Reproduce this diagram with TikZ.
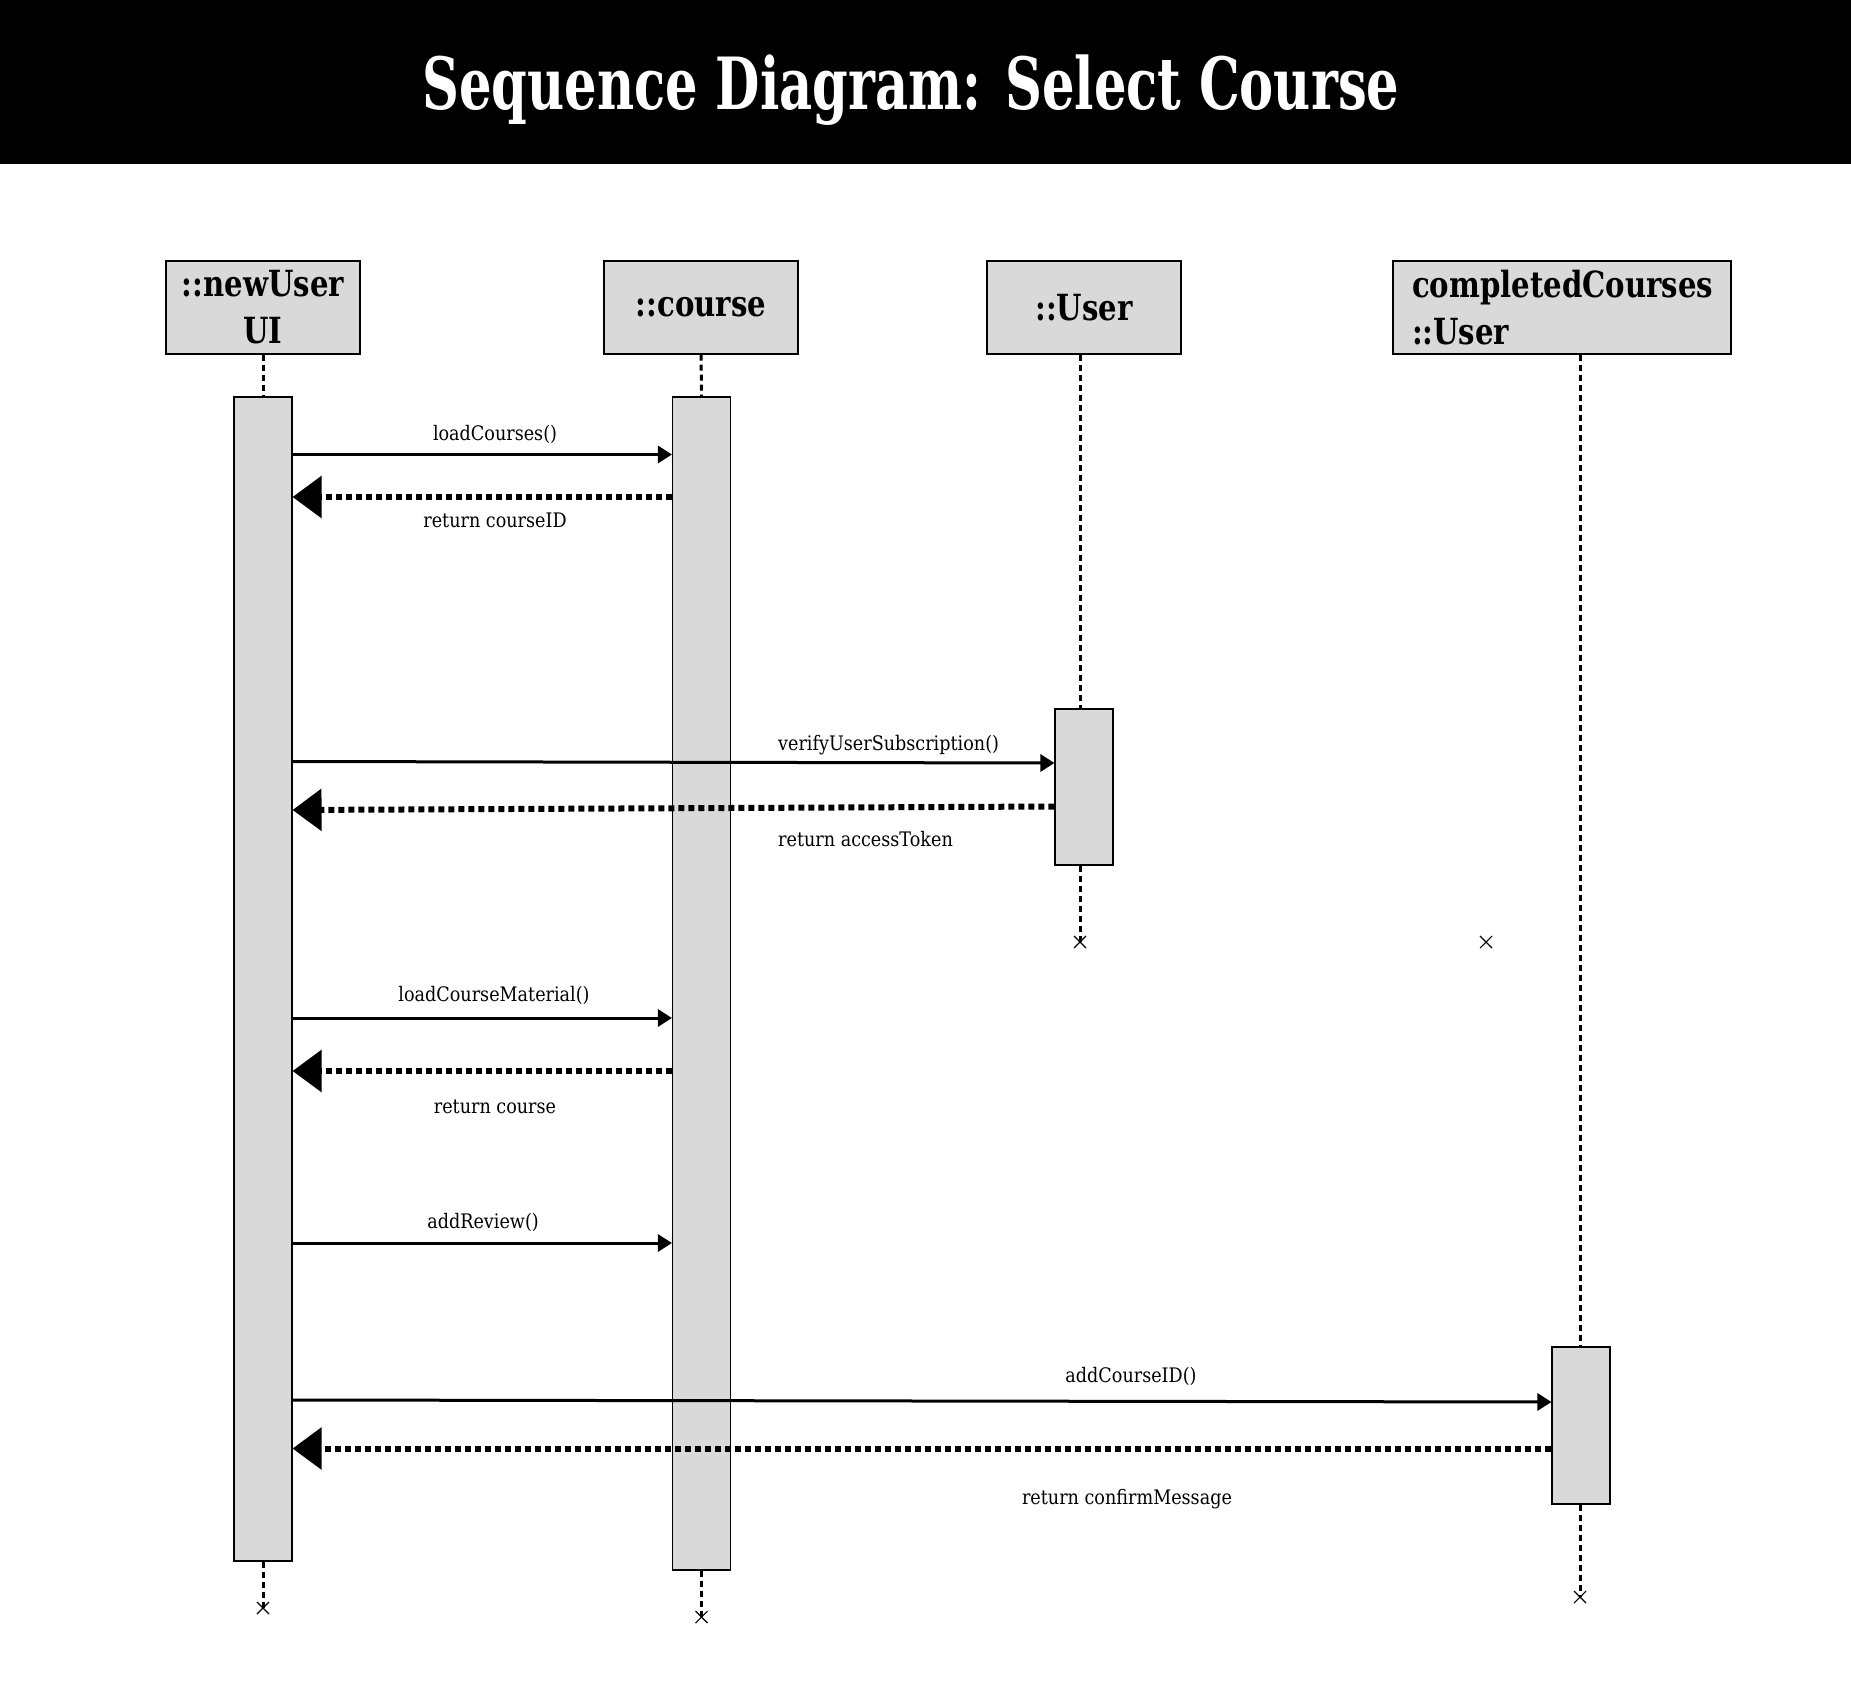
\documentclass[tikz,border=0pt]{standalone}
\usepackage{fontspec}
\setmainfont{DejaVu Serif}[FakeStretch=0.88]
\newfontfamily\titlefont{DejaVu Serif}[FakeStretch=0.71]
\newfontfamily\headfont{DejaVu Serif}[FakeStretch=0.81]
\usetikzlibrary{arrows.meta}
\definecolor{boxgray}{HTML}{D9D9D9}
\begin{document}
\begin{tikzpicture}[x=1pt,y=-1pt,
  hdr/.style={draw=black,line width=1.3pt,fill=boxgray,minimum width=194pt,minimum height=93pt,inner sep=0pt,font=\headfont\fontsize{36}{47}\selectfont\bfseries,align=center},
  bar/.style={draw=black,line width=1.1pt,fill=boxgray,inner sep=0pt,minimum width=58pt},
  life/.style={line width=3pt,dash pattern=on 6pt off 4pt},
  msg/.style={line width=3pt,-{Triangle[length=14pt,width=17pt]}},
  ret/.style={line width=6pt,dash pattern=on 6pt off 4pt,-{Triangle[length=29pt,width=41pt]}},
  lbl/.style={font=\fontsize{20}{24}\selectfont,inner sep=0pt},
  xmark/.style={line width=1.1pt}
]
\useasboundingbox (0,0) rectangle (1851,1685);
\fill[white] (0,0) rectangle (1851,1685);
\fill[black] (0,0) rectangle (1851,164);
\node[anchor=base,text=white,font=\titlefont\fontsize{72}{80}\selectfont\bfseries,inner sep=0pt] (title) at (911,110) {Sequence Diagram: Select Course};

% header boxes
\node[hdr] (nh) at (263,307.5) {::newUser\\UI};
\node[hdr] (ch) at (701,307.5) {\raisebox{-4pt}{::course}};
\node[hdr] (uh) at (1084,307.5) {\raisebox{-2pt}{::User}};
\node[hdr,minimum width=338pt,text width=300pt,align=left] (kh) at (1562,307.5) {completedCourses\\::User};

% activation bars
\node[bar,minimum height=1164pt] (nb) at (263,979) {};
\node[bar,minimum height=1173pt] (cb) at (701.5,983.5) {};
\node[bar,minimum height=156pt] (ub) at (1084,787) {};
\node[bar,minimum height=157pt] (kb) at (1581,1425.5) {};

% lifelines
\coordinate (nx) at (263,1608);
\coordinate (cx) at (701.5,1617);
\coordinate (ux) at (1080,942);
\coordinate (kx) at (1580,1597);
\coordinate (ox) at (1486,942);
\draw[life] (nh.south) -- (nb.north);
\draw[life] (nb.south) -- (nx);
\draw[life] (ch.south) -- (cb.north);
\draw[life] (cb.south) -- (cx);
\draw[life] ([xshift=-4pt]uh.south) -- ([xshift=-4pt]ub.north);
\draw[life] ([xshift=-4pt]ub.south) -- (ux);
\draw[life] ([xshift=18pt]kh.south) -- ([xshift=-1pt]kb.north);
\draw[life] ([xshift=-1pt]kb.south) -- (kx);
\foreach \p in {nx,cx,ux,kx,ox}{
  \draw[xmark] ([shift={(-6pt,-6pt)}]\p) -- ([shift={(6pt,6pt)}]\p);
  \draw[xmark] ([shift={(-6pt,6pt)}]\p) -- ([shift={(6pt,-6pt)}]\p);
}

% messages
\draw[msg] (nb.east |- 0,454.5) -- (cb.west |- 0,454.5);
\draw[ret] (cb.west |- 0,497) -- (nb.east |- 0,497);
\draw[msg] (nb.east |- 0,761.5) -- (ub.west |- 0,763);
\draw[ret] (ub.west |- 0,806.5) -- (nb.east |- 0,810);
\draw[msg] (nb.east |- 0,1018) -- (cb.west |- 0,1018);
\draw[ret] (cb.west |- 0,1071) -- (nb.east |- 0,1071);
\draw[msg] (nb.east |- 0,1243) -- (cb.west |- 0,1243);
\draw[msg] (nb.east |- 0,1400) -- (kb.west |- 0,1402);
\draw[ret] (kb.west |- 0,1448.5) -- (nb.east |- 0,1448.5);

% labels
\node[lbl,anchor=base] (l1) at (495,440) {loadCourses()};
\node[lbl,anchor=base] (l2) at (495,527) {return courseID};
\node[lbl,anchor=base west] (l3) at (778,750) {verifyUserSubscription()};
\node[lbl,anchor=base west] (l4) at (778,846) {return accessToken};
\node[lbl,anchor=base] (l5) at (494,1001) {loadCourseMaterial()};
\node[lbl,anchor=base] (l6) at (495,1113) {return course};
\node[lbl,anchor=base] (l7) at (483,1228) {addReview()};
\node[lbl,anchor=base] (l8) at (1131,1382) {addCourseID()};
\node[lbl,anchor=base] (l9) at (1127,1504) {return confirmMessage};
\end{tikzpicture}
\end{document}
